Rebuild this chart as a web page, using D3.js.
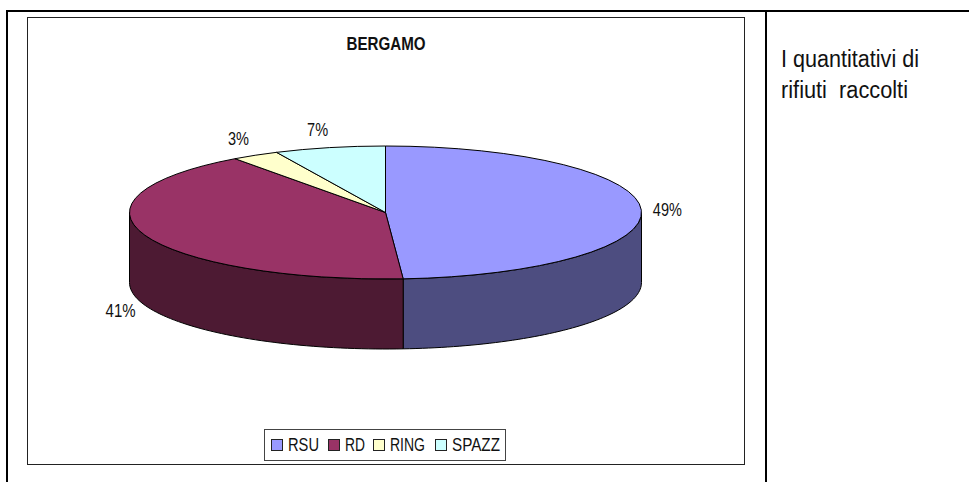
<!DOCTYPE html>
<html><head><meta charset="utf-8">
<script src="https://cdn.jsdelivr.net/npm/d3@7"></script>
<style>html,body{margin:0;padding:0;background:#fff}svg{display:block}text{font-family:"Liberation Sans",Arial,sans-serif;fill:#111}</style>
</head><body><svg id="c" width="969" height="482"></svg>
<script>
const categories=["RSU","RD","RING","SPAZZ"];
const values=[48.9,41.1,3,7];
const topColors=["#9999FF","#993366","#FFFFCC","#CCFFFF"];
const sideColors=["#4D4D80","#4D1A33","#FFFFCC","#CCFFFF"];
const labelNudgeX=[-2,2,-2.5,-6];
const labelNudgeY=[1.5,1,0,1];
const labelWidths=[29,30,21,21];
const legendWidths=[31,20,35,48];
const swatchX=[271,328,373,435];
const title="BERGAMO";
const noteLines=["I quantitativi di","rifiuti  raccolti"];
const noteWidths=[138,127];

const svg=d3.select("#c");
const cx=385.5,cy=212.5,rx=256,ry=66.5,depth=70;
const fit=(x,y,size,width,str,anchor,bold)=>{
  const t=svg.append("text").attr("x",x).attr("y",y).attr("font-size",size)
    .attr("text-anchor",anchor||"start").attr("textLength",width).attr("lengthAdjust","spacingAndGlyphs")
    .style("white-space","pre").text(str);
  if(bold)t.attr("font-weight","bold");
  return t;
};
const rule=(x1,y1,x2,y2,w,c)=>svg.append("line").attr("x1",x1).attr("y1",y1).attr("x2",x2).attr("y2",y2).attr("stroke",c).attr("stroke-width",w);
rule(6,11,969,11,2,"#000");rule(7,10,7,482,2,"#000");rule(766,10,766,482,2,"#000");
svg.append("rect").attr("x",27.5).attr("y",17.5).attr("width",717).attr("height",447).attr("fill","#fff").attr("stroke","#222");
fit(386,49.5,18,79,title,"middle",true);

const pie=d3.pie().sort(null).value(d=>d)(values);
const ex=a=>cx+rx*Math.sin(a), ey=a=>cy-ry*Math.cos(a);
const lim=[Math.PI/2,3*Math.PI/2];
const line=d3.line().x(d=>d[0]).y(d=>d[1]);
pie.forEach((p,i)=>{
  const a0=Math.max(p.startAngle,lim[0]),a1=Math.min(p.endAngle,lim[1]);
  if(a1<=a0)return;
  const as=d3.range(0,61).map(k=>a0+(a1-a0)*k/60);
  const pts=as.map(a=>[ex(a),ey(a)]).concat(as.slice().reverse().map(a=>[ex(a),ey(a)+depth]));
  svg.append("path").attr("d",line(pts)+"Z").attr("fill",sideColors[i]).attr("stroke","#000").attr("stroke-width",1).attr("stroke-linejoin","round");
});
const arc=d3.arc().innerRadius(0).outerRadius(rx);
svg.append("g").attr("transform",`translate(${cx},${cy}) scale(1,${ry/rx})`)
  .selectAll("path").data(pie).join("path").attr("d",arc)
  .attr("fill",(d,i)=>topColors[i]).attr("stroke","#000").attr("stroke-width",1).attr("vector-effect","non-scaling-stroke").attr("stroke-linejoin","round");
pie.forEach((p,i)=>{
  const m=(p.startAngle+p.endAngle)/2;
  const front=Math.cos(m)<0&&Math.abs(Math.sin(m))<0.97;
  const x=cx+(rx+28)*Math.sin(m)+labelNudgeX[i];
  const y=cy-(ry+18)*Math.cos(m)+(front?depth:0)+5+labelNudgeY[i];
  fit(x,y,18,labelWidths[i],d3.format(".0f")(p.value)+"%","middle");
});
svg.append("rect").attr("x",264.5).attr("y",429.5).attr("width",241).attr("height",31).attr("fill","#fff").attr("stroke","#444");
categories.forEach((c,i)=>{
  svg.append("rect").attr("x",swatchX[i]+.5).attr("y",439.5).attr("width",11).attr("height",11).attr("fill",topColors[i]).attr("stroke","#222");
  fit(swatchX[i]+17,450.5,18.5,legendWidths[i],c);
});
noteLines.forEach((t,i)=>fit(781,66.5+i*31,23,noteWidths[i],t));
</script></body></html>
